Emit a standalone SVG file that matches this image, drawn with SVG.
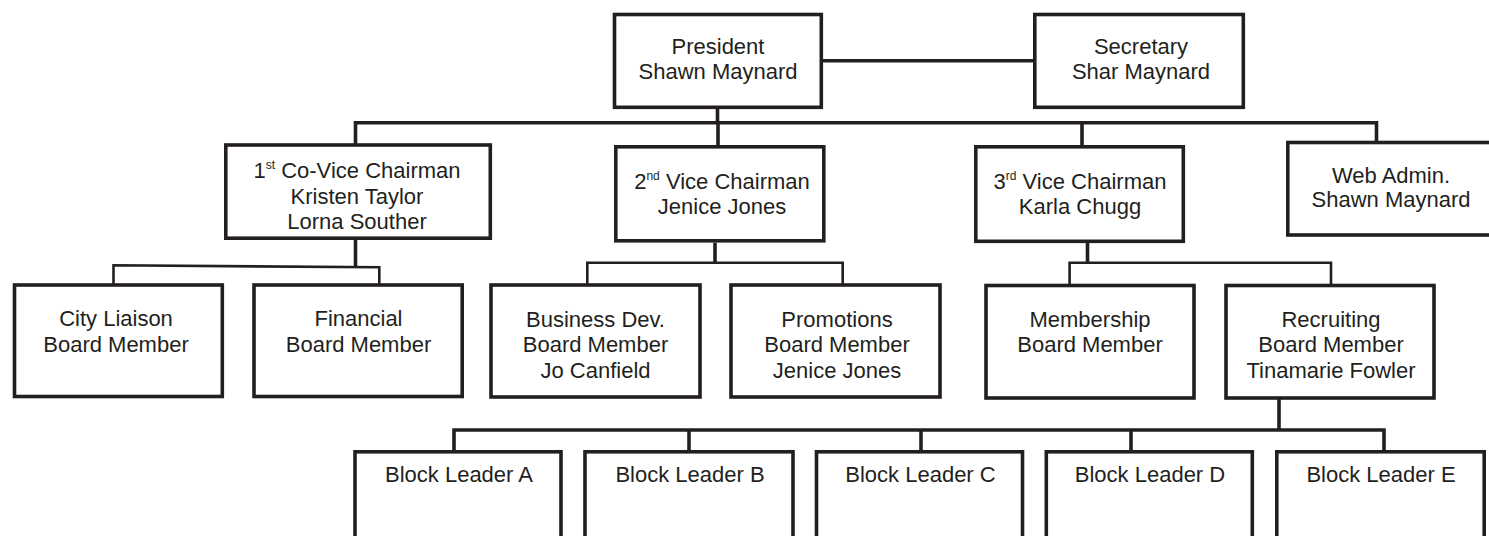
<svg xmlns="http://www.w3.org/2000/svg" width="1489" height="536" viewBox="0 0 1489 536">
<style>
.box{fill:#fff;stroke:#231f20;stroke-width:3.6}
.t{font-family:"Liberation Sans",Arial,sans-serif;font-size:22px;fill:#231f20;text-anchor:middle}
.sup{font-size:12px}
.thick{fill:none;stroke:#231f20;stroke-width:3.6}
.thin{fill:none;stroke:#231f20;stroke-width:2.6}
</style>
<rect width="1489" height="536" fill="#fff"/>
<g id="connectors">
<path class="thick" d="M823 60.7H1033"/>
<path class="thick" d="M717.5 109V124"/>
<path class="thick" d="M355.5 145V122.7H1376.5V142"/>
<path class="thick" d="M718 122.7V146"/>
<path class="thick" d="M1082 122.7V146"/>
<path class="thick" d="M355.5 240V266.5"/>
<path class="thin" d="M113.5 284V265.3L379.3 267.3V284"/>
<path class="thick" d="M715 242.7V263"/>
<path class="thin" d="M587.3 284V262.8H842.7V284"/>
<path class="thick" d="M1087.5 243V263"/>
<path class="thin" d="M1069.6 284V262.8H1331V284"/>
<path class="thick" d="M1279 399V430"/>
<path class="thick" d="M454 451V430H1384V451"/>
<path class="thick" d="M689 430V451"/>
<path class="thick" d="M921 430V451"/>
<path class="thick" d="M1131 430V451"/>
</g>
<g id="president"><rect class="box" x="614.5" y="14.5" width="206.8" height="92.8"/>
<text class="t" x="718" y="54">President</text><text class="t" x="718" y="79.3">Shawn Maynard</text></g>
<g id="secretary"><rect class="box" x="1034.8" y="14.5" width="208.5" height="92.8"/>
<text class="t" x="1141" y="54">Secretary</text><text class="t" x="1141" y="79.3">Shar Maynard</text></g>
<g id="covice"><rect class="box" x="225.8" y="145" width="264.5" height="93.2"/>
<text class="t" x="357" y="178.3">1<tspan class="sup" dy="-9">st</tspan><tspan dy="9"> Co-Vice Chairman</tspan></text>
<text class="t" x="357" y="203.8">Kristen Taylor</text><text class="t" x="357" y="229.3">Lorna Souther</text></g>
<g id="vice2"><rect class="box" x="615.8" y="146.8" width="208" height="94"/>
<text class="t" x="722" y="189">2<tspan class="sup" dy="-9">nd</tspan><tspan dy="9"> Vice Chairman</tspan></text>
<text class="t" x="722" y="214.3">Jenice Jones</text></g>
<g id="vice3"><rect class="box" x="975.8" y="146.8" width="207.5" height="94.5"/>
<text class="t" x="1080" y="189">3<tspan class="sup" dy="-9">rd</tspan><tspan dy="9"> Vice Chairman</tspan></text>
<text class="t" x="1080" y="214.3">Karla Chugg</text></g>
<g id="webadmin"><rect class="box" x="1287.8" y="142.5" width="206.5" height="92.5"/>
<text class="t" x="1391" y="182.7">Web Admin.</text><text class="t" x="1391" y="207">Shawn Maynard</text></g>
<g id="cityliaison"><rect class="box" x="14.5" y="285" width="207.8" height="111.5"/>
<text class="t" x="116" y="326">City Liaison</text><text class="t" x="116" y="351.7">Board Member</text></g>
<g id="financial"><rect class="box" x="254" y="285" width="208.2" height="111.5"/>
<text class="t" x="358.5" y="326">Financial</text><text class="t" x="358.5" y="351.7">Board Member</text></g>
<g id="businessdev"><rect class="box" x="491" y="285" width="209" height="112"/>
<text class="t" x="595.5" y="326.7">Business Dev.</text><text class="t" x="595.5" y="352.3">Board Member</text><text class="t" x="595.5" y="378">Jo Canfield</text></g>
<g id="promotions"><rect class="box" x="731" y="285" width="209" height="112"/>
<text class="t" x="837" y="326.7">Promotions</text><text class="t" x="837" y="352.3">Board Member</text><text class="t" x="837" y="378">Jenice Jones</text></g>
<g id="membership"><rect class="box" x="986" y="285.5" width="208" height="112.5"/>
<text class="t" x="1090" y="326.7">Membership</text><text class="t" x="1090" y="352.3">Board Member</text></g>
<g id="recruiting"><rect class="box" x="1226" y="285.5" width="208" height="112.5"/>
<text class="t" x="1331" y="326.7">Recruiting</text><text class="t" x="1331" y="352.3">Board Member</text><text class="t" x="1331" y="378">Tinamarie Fowler</text></g>
<g id="blockA"><rect class="box" x="355" y="451.8" width="206" height="110"/><text class="t" x="459" y="481.5">Block Leader A</text></g>
<g id="blockB"><rect class="box" x="585" y="451.8" width="208" height="110"/><text class="t" x="690" y="481.5">Block Leader B</text></g>
<g id="blockC"><rect class="box" x="816.5" y="451.8" width="206" height="110"/><text class="t" x="920.5" y="481.5">Block Leader C</text></g>
<g id="blockD"><rect class="box" x="1046.3" y="451.8" width="206" height="110"/><text class="t" x="1150" y="481.5">Block Leader D</text></g>
<g id="blockE"><rect class="box" x="1276.8" y="451.8" width="207.4" height="110"/><text class="t" x="1381" y="481.5">Block Leader E</text></g>
</svg>
